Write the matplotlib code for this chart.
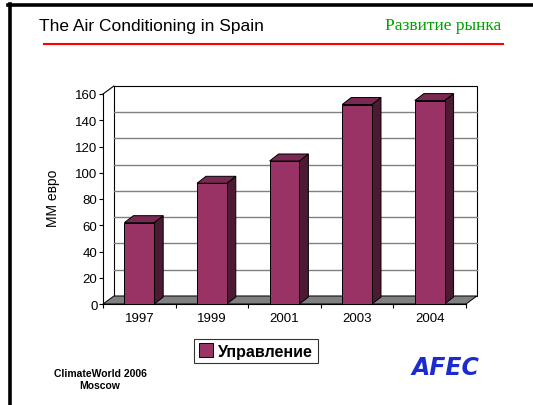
import matplotlib
matplotlib.use("Agg")
import matplotlib.pyplot as plt
from matplotlib.patches import Polygon, Rectangle
from matplotlib.lines import Line2D

plt.rcParams['font.family'] = ['Liberation Sans', 'DejaVu Sans']

# data
YEARS = ['1997', '1999', '2001', '2003', '2004']
VALUES = [62, 92, 109, 152, 155]
SERIES = 'Управление'
Y_TICKS = [0, 20, 40, 60, 80, 100, 120, 140, 160]

FRONT = '#993366'
TOP = '#7a2952'
SIDE = '#4d1a33'
FLOOR = '#808080'

# depth of the 3d box, in data units (x: categories, y: values)
DX, DY = 0.15, 6.1
BAR_W = 0.41
BDX, BDY = 0.124, 5.3

fig = plt.figure(figsize=(5.33, 4.06), dpi=100)
ax = fig.add_axes([103 / 533, 1 - 305 / 406, 363 / 533, 210 / 406])
ax.set_xlim(0, len(YEARS))
ax.set_ylim(0, Y_TICKS[-1])
for s in ax.spines.values():
    s.set_visible(False)
ax.patch.set_visible(False)

n = len(YEARS)
top = Y_TICKS[-1]

# back wall + gridlines
ax.add_patch(Polygon([(DX, DY), (n + DX, DY), (n + DX, top + DY), (DX, top + DY)],
                     closed=True, facecolor='white', edgecolor='black', lw=0.8,
                     clip_on=False, zorder=1))
for t in Y_TICKS[1:-1]:
    ax.add_line(Line2D([DX, n + DX], [t + DY, t + DY], color='#808080', lw=1.0,
                       clip_on=False, zorder=1.5))
# left side wall edges
ax.add_line(Line2D([0, DX], [top, top + DY], color='black', lw=0.8, clip_on=False, zorder=2))
ax.add_line(Line2D([0, 0], [0, top], color='black', lw=0.8, clip_on=False, zorder=2))

# floor
ax.add_patch(Polygon([(0, 0), (n, 0), (n + DX, DY), (DX, DY)], closed=True,
                     facecolor=FLOOR, edgecolor='black', lw=0.7, clip_on=False, zorder=2))
ax.add_line(Line2D([0, n], [0, 0], color='black', lw=0.8, clip_on=False, zorder=2.5))

# bars
for i, v in enumerate(VALUES):
    c = i + 0.5
    x0, x1 = c - BAR_W / 2, c + BAR_W / 2
    ax.add_patch(Polygon([(x1, 0), (x1 + BDX, BDY), (x1 + BDX, v + BDY), (x1, v)],
                         closed=True, facecolor=SIDE, edgecolor='black', lw=0.7,
                         clip_on=False, zorder=3))
    ax.add_patch(Polygon([(x0, v), (x1, v), (x1 + BDX, v + BDY), (x0 + BDX, v + BDY)],
                         closed=True, facecolor=TOP, edgecolor='black', lw=0.7,
                         clip_on=False, zorder=3))
    ax.add_patch(Rectangle((x0, 0), BAR_W, v, facecolor=FRONT, edgecolor='black',
                           lw=0.7, clip_on=False, zorder=3.5))

# ticks
ax.set_yticks(Y_TICKS)
ax.tick_params(axis='y', direction='out', length=3, width=0.8, pad=1, labelsize=9.5)
ax.set_xticks(range(n + 1))
ax.set_xticklabels([])
ax.set_xticks([i + 0.5 for i in range(n)], minor=True)
ax.set_xticklabels(YEARS, minor=True)
ax.tick_params(axis='x', which='major', direction='out', length=3, width=0.8)
ax.tick_params(axis='x', which='minor', length=0, pad=6, labelsize=9.5)

ax.set_ylabel('ММ евро', fontsize=10)
ax.yaxis.set_label_coords((60 - 103) / 363, (305 - 198.5) / 210)

# legend
handle = Rectangle((0, 0), 1, 1, facecolor=FRONT, edgecolor='black', lw=0.7)
leg = fig.legend([handle], [SERIES], loc='center', bbox_to_anchor=(256 / 533, 1 - 352 / 406),
                 frameon=True, fancybox=False, edgecolor='black', handlelength=0.9,
                 handleheight=0.9, handletextpad=0.3, borderpad=0.3,
                 prop={'weight': 'bold', 'size': 11.5})
leg.get_frame().set_linewidth(0.8)

# slide decoration
fig.add_artist(Line2D([9.5 / 533, 9.5 / 533], [0, 1 - 5 / 406], color='black', lw=2.6))
fig.add_artist(Line2D([8 / 533, 1], [1 - 5.5 / 406, 1 - 5.5 / 406], color='black', lw=2.6))
fig.text(39 / 533, 1 - 26 / 406, 'The Air Conditioning in Spain', fontsize=12.5,
         ha='left', va='center')
fig.text(501 / 533, 1 - 26 / 406, 'Развитие рынка', fontsize=12.5, color='#00a000',
         family=['Liberation Serif', 'DejaVu Serif'], ha='right', va='center')
fig.add_artist(Line2D([44 / 533, 503 / 533], [1 - 45 / 406, 1 - 45 / 406],
                      color='#ff0000', lw=1.5))
fig.text(100 / 533, 1 - 380 / 406, 'ClimateWorld 2006\nMoscow', fontsize=7.5,
         weight='bold', ha='center', va='center', linespacing=1.25)
fig.text(445 / 533, 1 - 368 / 406, 'AFEC', fontsize=17, weight='heavy', style='italic',
         color='#1a2cd0', family=['DejaVu Sans'], ha='center', va='center')

fig.savefig('out.png', dpi=100)
